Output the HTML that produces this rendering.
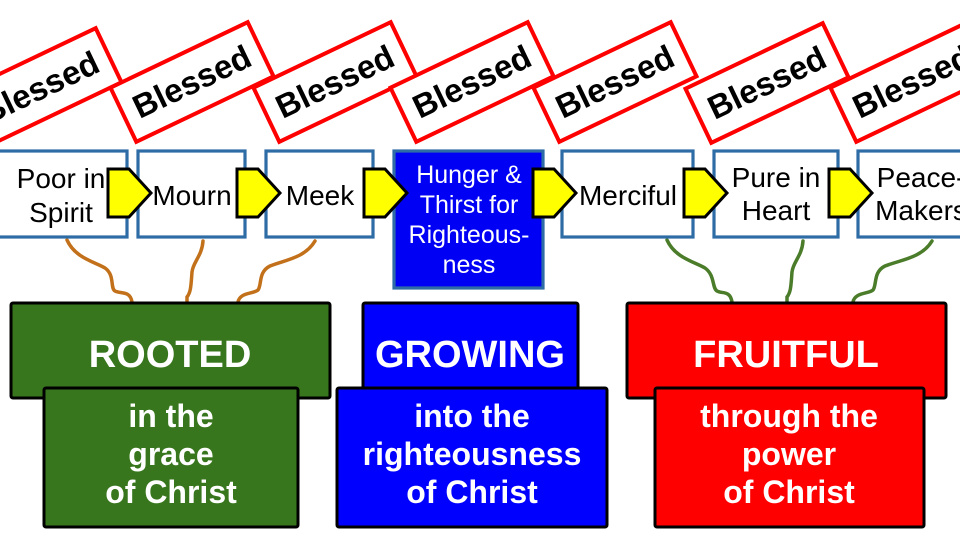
<!DOCTYPE html>
<html><head><meta charset="utf-8"><style>
html,body{margin:0;padding:0;background:#fff;}
svg{display:block;}
</style></head><body>
<svg width="960" height="540" viewBox="0 0 960 540" xmlns="http://www.w3.org/2000/svg" font-family="'Liberation Sans', Arial, sans-serif">
<rect width="960" height="540" fill="#fff"/>

<!-- Blessed labels -->
<g font-weight="bold" font-size="33" text-anchor="middle" fill="#000">
  <g transform="translate(40,88) rotate(-25.5)"><rect x="-76" y="-30" width="152" height="60" fill="#fff" stroke="#f00" stroke-width="4"/><text x="0" y="11">Blessed</text></g>
  <g transform="translate(192,82) rotate(-25.5)"><rect x="-76" y="-30" width="152" height="60" fill="#fff" stroke="#f00" stroke-width="4"/><text x="0" y="11">Blessed</text></g>
  <g transform="translate(335,82) rotate(-25.5)"><rect x="-76" y="-30" width="152" height="60" fill="#fff" stroke="#f00" stroke-width="4"/><text x="0" y="11">Blessed</text></g>
  <g transform="translate(472,82) rotate(-25.5)"><rect x="-76" y="-30" width="152" height="60" fill="#fff" stroke="#f00" stroke-width="4"/><text x="0" y="11">Blessed</text></g>
  <g transform="translate(615,82) rotate(-25.5)"><rect x="-76" y="-30" width="152" height="60" fill="#fff" stroke="#f00" stroke-width="4"/><text x="0" y="11">Blessed</text></g>
  <g transform="translate(767,83) rotate(-25.5)"><rect x="-76" y="-30" width="152" height="60" fill="#fff" stroke="#f00" stroke-width="4"/><text x="0" y="11">Blessed</text></g>
  <g transform="translate(912,82) rotate(-25.5)"><rect x="-76" y="-30" width="152" height="60" fill="#fff" stroke="#f00" stroke-width="4"/><text x="0" y="11">Blessed</text></g>
</g>

<!-- connectors -->
<g fill="none" stroke-width="3.5" stroke-linecap="round">
  <path stroke="#c2711a" d="M67,240 C75,258 95,262 105,268 C115,275 110,288 115,291 C120,294 130,290 132,302"/>
  <path stroke="#c2711a" d="M203,241 C202,256 193,262 192,272 C191,285 191,292 187,297 L187,302"/>
  <path stroke="#c2711a" d="M315,241 C305,258 285,260 270,266 C258,272 262,285 258,290 C254,294 240,292 238,302"/>
  <path stroke="#4a7c2a" d="M667,240 C675,258 695,262 705,268 C715,275 712,288 717,291 C722,294 730,290 732,302"/>
  <path stroke="#4a7c2a" d="M803,241 C802,256 793,262 792,272 C791,285 791,292 787,297 L787,302"/>
  <path stroke="#4a7c2a" d="M932,241 C922,258 900,260 885,266 C873,272 877,285 873,290 C869,294 855,292 853,302"/>
</g>

<!-- top boxes -->
<g stroke="#2e6ca6" stroke-width="3.2">
  <rect x="-5" y="151" width="132" height="86" fill="#fff"/>
  <rect x="138" y="151" width="107" height="86" fill="#fff"/>
  <rect x="266" y="151" width="107" height="86" fill="#fff"/>
  <rect x="394" y="151" width="149" height="137" fill="#0000f5"/>
  <rect x="562" y="151" width="131" height="86" fill="#fff"/>
  <rect x="714" y="151" width="124" height="86" fill="#fff"/>
  <rect x="858" y="151" width="126" height="86" fill="#fff"/>
</g>
<g font-size="28" text-anchor="middle" fill="#000">
  <text x="61" y="188">Poor in</text><text x="61" y="222">Spirit</text>
  <text x="192" y="205">Mourn</text>
  <text x="320" y="205">Meek</text>
  <text x="628" y="205">Merciful</text>
  <text x="776" y="187">Pure in</text><text x="776" y="220">Heart</text>
  <text x="921" y="187">Peace-</text><text x="921" y="220">Makers</text>
</g>
<g font-size="25" text-anchor="middle" fill="#fff">
  <text x="469" y="183">Hunger &amp;</text>
  <text x="469" y="213">Thirst for</text>
  <text x="469" y="243">Righteous-</text>
  <text x="469" y="273">ness</text>
</g>

<!-- yellow arrows -->
<g fill="#ffff00" stroke="#000" stroke-width="3" stroke-linejoin="miter">
  <polygon points="108,169 129,169 151,193 129,217 108,217"/>
  <polygon points="237,169 258,169 280,193 258,217 237,217"/>
  <polygon points="364,169 385,169 407,193 385,217 364,217"/>
  <polygon points="533,169 554,169 576,193 554,217 533,217"/>
  <polygon points="684,169 705,169 727,193 705,217 684,217"/>
  <polygon points="829,169 850,169 872,193 850,217 829,217"/>
</g>

<!-- bottom boxes -->
<g stroke="#000" stroke-width="3">
  <rect x="11" y="303" width="319" height="95" rx="2" fill="#38761d"/>
  <rect x="44" y="388" width="254" height="139" rx="2" fill="#38761d"/>
  <rect x="363" y="303" width="215" height="95" rx="2" fill="#0000ff"/>
  <rect x="337" y="388" width="270" height="139" rx="2" fill="#0000ff"/>
  <rect x="627" y="303" width="319" height="95" rx="2" fill="#ff0000"/>
  <rect x="655" y="388" width="269" height="139" rx="2" fill="#ff0000"/>
</g>
<g font-weight="bold" fill="#fff" text-anchor="middle">
  <text x="170" y="367" font-size="38">ROOTED</text>
  <text x="470" y="367" font-size="38">GROWING</text>
  <text x="786" y="367" font-size="38">FRUITFUL</text>
  <g font-size="32">
    <text x="171" y="427">in the</text>
    <text x="171" y="465">grace</text>
    <text x="171" y="503">of Christ</text>
    <text x="472" y="427">into the</text>
    <text x="472" y="465">righteousness</text>
    <text x="472" y="503">of Christ</text>
    <text x="789" y="427">through the</text>
    <text x="789" y="465">power</text>
    <text x="789" y="503">of Christ</text>
  </g>
</g>
</svg>
</body></html>
